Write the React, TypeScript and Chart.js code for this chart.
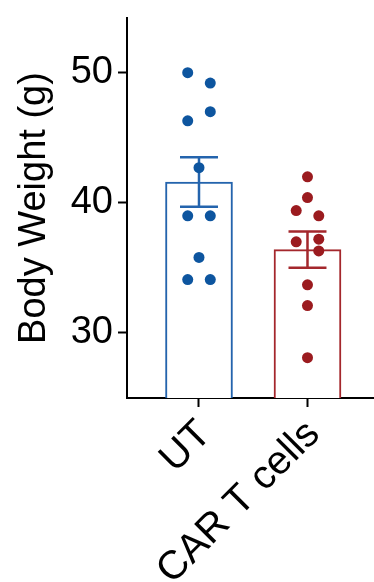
import { useEffect, useRef } from 'react';
import { Chart, registerables } from 'chart.js';

Chart.register(...registerables);

const groups = ['UT', 'CAR T cells'];
const utValues = [50.0, 49.2, 47.0, 46.3, 42.7, 39.0, 39.0, 35.8, 34.1, 34.1];
const utColumns = [-1, 1, 1, -1, 0, -1, 1, 0, -1, 1];
const carValues = [42.0, 40.4, 39.4, 39.0, 37.0, 37.2, 36.3, 33.7, 32.1, 28.1];
const carColumns = [0, 0, -1, 1, -1, 1, 1, 0, 0, 0];
const means = [41.6, 36.4];
const sems = [1.9, 1.4];
const yTicks = [30, 40, 50];

const FONT = '"Liberation Sans", Arial, Helvetica, sans-serif';
const BLUE_DOT = '#0d559f';
const BLUE_BAR = '#2464ad';
const RED_DOT = '#9b1b1f';
const RED_BAR = '#a4272c';
const JITTER = 0.104;
const CAP_HALF = 0.175;

const errorBarPlugin = {
  id: 'errorBars',
  afterDatasetDraw(chart: any, args: any) {
    if (args.index !== 2) return;
    const { ctx } = chart;
    const xs = chart.scales.x;
    const ys = chart.scales.y;
    const colors = [BLUE_BAR, RED_BAR];
    ctx.save();
    ctx.lineWidth = 2.5;
    means.forEach((m, i) => {
      const cx = xs.getPixelForValue(i);
      const top = ys.getPixelForValue(m + sems[i]);
      const bot = ys.getPixelForValue(m - sems[i]);
      const l = xs.getPixelForValue(i - CAP_HALF);
      const r = xs.getPixelForValue(i + CAP_HALF);
      ctx.strokeStyle = colors[i];
      ctx.beginPath();
      ctx.moveTo(cx, top);
      ctx.lineTo(cx, bot);
      ctx.moveTo(l, top);
      ctx.lineTo(r, top);
      ctx.moveTo(l, bot);
      ctx.lineTo(r, bot);
      ctx.stroke();
    });
    ctx.restore();
  },
};

export default function App() {
  const ref = useRef<HTMLCanvasElement>(null);
  useEffect(() => {
    document.body.style.margin = '0';
    const canvas = ref.current!;
    const gridCfg = {
      display: true,
      offset: false,
      drawOnChartArea: false,
      drawTicks: true,
      tickLength: 9,
      tickWidth: 2,
      tickColor: '#000',
      color: '#000',
    };
    const chart = new Chart(canvas, {
      type: 'bar',
      data: {
        datasets: [
          {
            type: 'scatter',
            order: 0,
            data: utValues.map((v, i) => ({ x: 0 + utColumns[i] * JITTER, y: v })),
            backgroundColor: BLUE_DOT,
            borderWidth: 0,
            pointRadius: 5.5,
          } as any,
          {
            type: 'scatter',
            order: 0,
            data: carValues.map((v, i) => ({ x: 1 + carColumns[i] * JITTER, y: v })),
            backgroundColor: RED_DOT,
            borderWidth: 0,
            pointRadius: 5.5,
          } as any,
          {
            type: 'bar',
            order: 2,
            data: means.map((m, i) => ({ x: i, y: m })),
            backgroundColor: '#ffffff',
            borderColor: [BLUE_BAR, RED_BAR],
            borderWidth: 2,
            barThickness: 67,
          } as any,
        ],
      },
      options: {
        animation: false,
        responsive: false,
        devicePixelRatio: 1,
        layout: { autoPadding: false, padding: { top: 18, right: 0, bottom: 0, left: 0 } },
        plugins: { legend: { display: false }, tooltip: { enabled: false } },
        scales: {
          x: {
            type: 'linear',
            offset: false,
            min: -0.6636,
            max: 1.613,
            afterBuildTicks: (s: any) => {
              s.ticks = groups.map((_, i) => ({ value: i }));
            },
            afterFit: (s: any) => {
              s.height = 184;
              s.paddingLeft = 0;
              s.paddingRight = 0;
            },
            ticks: {
              callback: (_v: any, i: number) => groups[i],
              minRotation: 45,
              maxRotation: 45,
              autoSkip: false,
              padding: 4,
              labelOffset: 6,
              color: '#000',
              font: { size: 40, family: FONT },
            },
            grid: gridCfg,
            border: { display: true, color: '#000', width: 2 },
          },
          y: {
            min: 25,
            max: 54.2,
            afterBuildTicks: (s: any) => {
              s.ticks = yTicks.map((v) => ({ value: v }));
            },
            afterFit: (s: any) => {
              s.width = 127;
              s.paddingTop = 0;
              s.paddingBottom = 0;
            },
            ticks: {
              padding: 5,
              color: '#000',
              font: { size: 38, family: FONT },
            },
            title: {
              display: true,
              text: 'Body Weight (g)',
              color: '#000',
              font: { size: 38, family: FONT },
              padding: { top: 12, bottom: 0 },
            },
            grid: gridCfg,
            border: { display: true, color: '#000', width: 2 },
          },
        },
      } as any,
      plugins: [errorBarPlugin],
    });
    return () => chart.destroy();
  }, []);
  return <canvas ref={ref} width={374} height={582} style={{ display: 'block' }} />;
}
